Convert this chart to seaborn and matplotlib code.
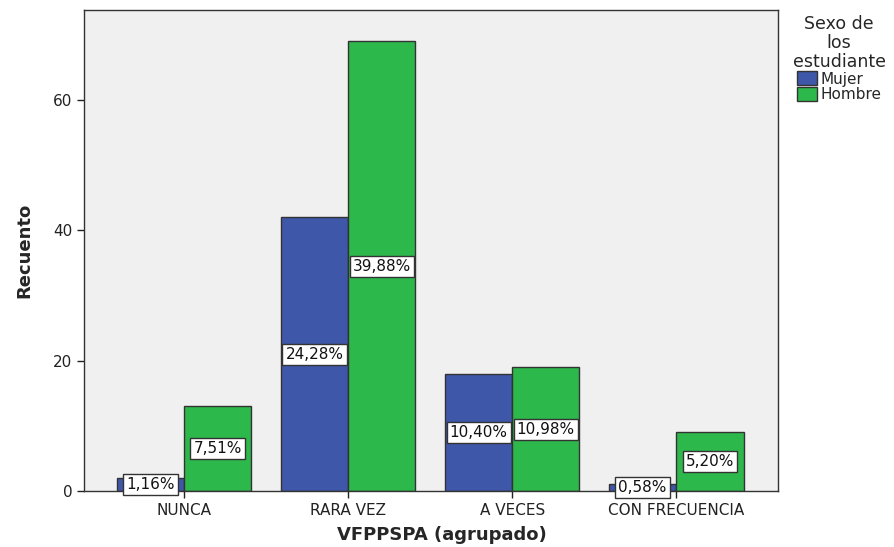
import matplotlib.pyplot as plt
import seaborn as sns
import pandas as pd

categorias = ["NUNCA", "RARA VEZ", "A VECES", "CON FRECUENCIA"]
mujer = [2, 42, 18, 1]
hombre = [13, 69, 19, 9]
pct_mujer = ["1,16%", "24,28%", "10,40%", "0,58%"]
pct_hombre = ["7,51%", "39,88%", "10,98%", "5,20%"]

df = pd.DataFrame({
    "VFPPSPA": categorias * 2,
    "Sexo": ["Mujer"] * 4 + ["Hombre"] * 4,
    "Recuento": mujer + hombre,
})

sns.set_style("white")
plt.rcParams["font.family"] = ["DejaVu Sans"]

fig = plt.figure(figsize=(8.94, 5.47), dpi=100)
ax = fig.add_axes([84 / 894, 1 - 491 / 547, 694 / 894, 481 / 547])

sns.barplot(data=df, x="VFPPSPA", y="Recuento", hue="Sexo",
            palette={"Mujer": "#3e57a9", "Hombre": "#2db84b"},
            width=0.82, gap=0, edgecolor="#333333", linewidth=1,
            saturation=1, ax=ax)

ax.set_facecolor("#f0f0f0")
ax.set_ylim(0, 73.8)
ax.set_xlim(-0.61, 3.62)
ax.set_yticks([0, 20, 40, 60])
ax.tick_params(axis="both", labelsize=11, colors="#222222", length=5,
               width=1, direction="out", left=True, bottom=True)
for s in ax.spines.values():
    s.set_color("#333333")
    s.set_linewidth(1)

# percent labels in the middle of each bar
labels = pct_mujer + pct_hombre
for patch, txt in zip(ax.patches[:8], labels):
    h = patch.get_height()
    ax.text(patch.get_x() + patch.get_width() / 2, h / 2, txt,
            ha="center", va="center", fontsize=11, color="#111111",
            bbox=dict(boxstyle="square,pad=0.2", fc="white", ec="#333333", lw=1))

ax.set_xlabel("VFPPSPA (agrupado)", fontsize=13, fontweight="bold")
ax.xaxis.set_label_coords(0.516, -0.073)
ax.set_ylabel("Recuento", fontsize=13, fontweight="bold", labelpad=14)

leg = ax.legend(title="Sexo de\nlos\nestudiante", loc="upper left",
                bbox_to_anchor=(1.008, 1.008), frameon=False, fontsize=11,
                title_fontsize=12.5, handlelength=1.3, handleheight=1.0,
                handletextpad=0.2, labelspacing=0.05, borderaxespad=0.2,
                alignment="center")
leg.get_title().set_multialignment("center")
leg.get_title().set_linespacing(1.05)
for h in leg.legend_handles:
    h.set_edgecolor("#333333")

fig.savefig("out.png", dpi=100)
